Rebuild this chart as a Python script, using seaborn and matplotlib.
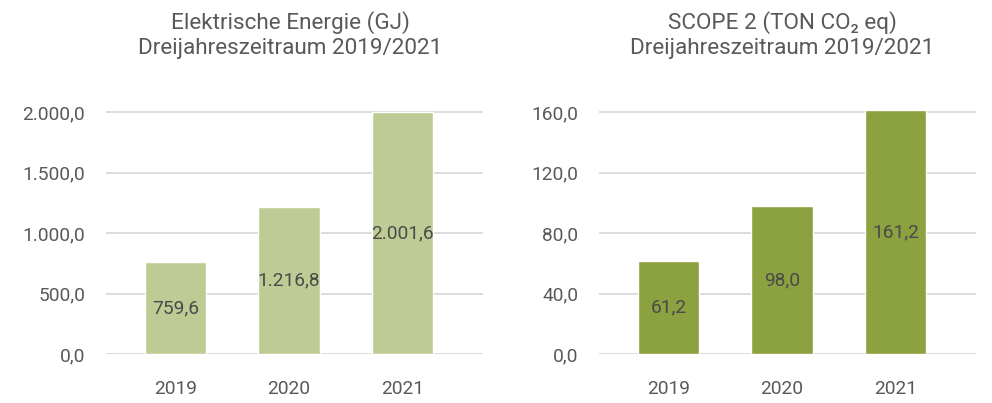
import matplotlib
matplotlib.use("Agg")
import matplotlib.pyplot as plt
import seaborn as sns
import pandas as pd

# Data
years = ["2019", "2020", "2021"]
energy_gj = [759.6, 1216.8, 2001.6]
scope2_t = [61.2, 98.0, 161.2]

energy_ticks = [0, 500, 1000, 1500, 2000]
scope2_ticks = [0, 40, 80, 120, 160]

title_energy = "Elektrische Energie (GJ)\nDreijahreszeitraum 2019/2021"
title_scope2 = "SCOPE 2 (TON CO\u2082 eq)\nDreijahreszeitraum 2019/2021"

sns.set_theme(style="white")
plt.rcParams["font.family"] = ["Roboto", "DejaVu Sans"]

TEXT = "#595959"
LABEL = "#4A4A4A"
GRID = "#D9D9D9"


def de_fmt(v):
    s = f"{v:,.1f}"
    return s.replace(",", "X").replace(".", ",").replace("X", ".")


fig = plt.figure(figsize=(9.92, 4.03), dpi=100)
ax1 = fig.add_axes([106 / 992, 49 / 403, 377 / 992, 254 / 403])
ax2 = fig.add_axes([599 / 992, 49 / 403, 377 / 992, 254 / 403])

panels = [
    (ax1, energy_gj, energy_ticks, 2100, "#BFCB94", title_energy, 290),
    (ax2, scope2_t, scope2_ticks, 168, "#8CA13F", title_scope2, 782),
]

for ax, vals, ticks, ymax, color, title, tx in panels:
    df = pd.DataFrame({"year": years, "value": vals})
    sns.barplot(data=df, x="year", y="value", color=color, saturation=1,
                width=0.54, ax=ax, zorder=2)
    ax.set_xlim(-0.614, 2.71)
    ax.set_ylim(0, ymax)
    ax.set_yticks(ticks)
    ax.set_yticklabels([de_fmt(t) for t in ticks])
    ax.set_xlabel("")
    ax.set_ylabel("")
    for sp in ax.spines.values():
        sp.set_visible(False)
    for t in ticks:
        ax.axhline(t, color=GRID, lw=1.3, zorder=1)
    ax.tick_params(axis="y", length=0, pad=15, labelsize=13.8, labelcolor=TEXT)
    ax.tick_params(axis="x", length=0, pad=19, labelsize=13.8, labelcolor=TEXT)
    for i, v in enumerate(vals):
        ax.text(i, v / 2, de_fmt(v), ha="center", va="center",
                fontsize=13.8, color=LABEL, zorder=3)
    fig.text(tx / 992, 1 - 35 / 403, title, ha="center", va="center",
             fontsize=16.2, color=TEXT, linespacing=1.3)

fig.savefig("out.png", dpi=100)
